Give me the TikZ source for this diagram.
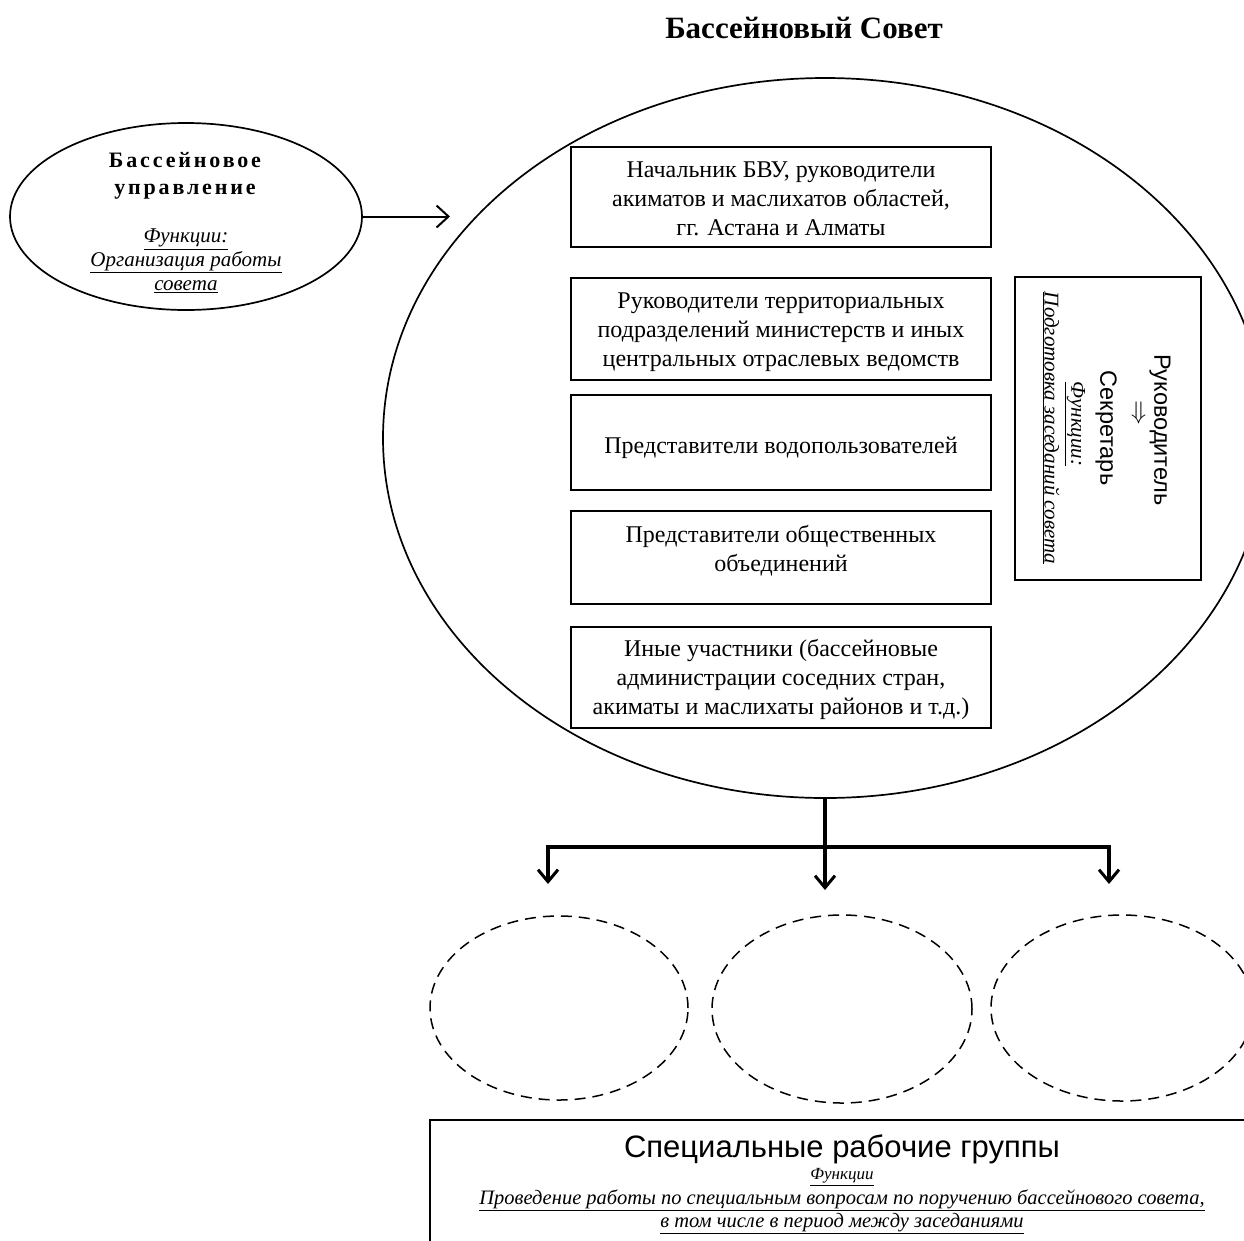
\documentclass[tikz,border=0pt]{standalone}
\usepackage{fontspec}
\setmainfont{Liberation Serif}
\setsansfont{Liberation Sans}
\usetikzlibrary{arrows.meta,shapes.geometric}
\newcommand\myul[1]{\underline{#1}}
\begin{document}
\begin{tikzpicture}[x=1pt,y=-1pt,
  boxst/.style={draw,line width=1.7pt,inner sep=0pt,minimum width=420pt},
  txt/.style={align=center,inner sep=0pt,font=\fontsize{24}{29}\selectfont},
  dashell/.style={draw,ellipse,dash pattern=on 11pt off 7pt,line width=1.5pt,inner sep=0pt},
  rot/.style={rotate=-90,inner sep=0pt},
  thinarrow/.style={line width=2pt,-{Straight Barb[length=12pt,width=22pt,line width=2pt]}},
  thickarrow/.style={line width=3.2pt,line join=miter}
]
\useasboundingbox (0,0) rectangle (1244,1240);
\clip (0,0) rectangle (1244,1240);

% title
\node[inner sep=0pt,font=\bfseries\fontsize{31}{34}\selectfont] (title) at (804,28) {Бассейновый Совет};

% big ellipse
\node[draw,ellipse,line width=1.7pt,inner sep=0pt,minimum width=884pt,minimum height=720pt] (big) at (825,438) {};

% left ellipse
\node[draw,ellipse,line width=1.7pt,inner sep=0pt,minimum width=352pt,minimum height=187pt] (lft) at (186,216.5) {};
\node[align=center,inner sep=0pt,font=\bfseries\fontsize{22}{27}\selectfont\addfontfeature{LetterSpace=13}] (ltitle) at (185,176) {Бассейновое\\управление};
\node[align=center,inner sep=0pt,font=\itshape\fontsize{21}{24}\selectfont] (lfunc) at (186,261) {\myul{Функции:}\\\myul{Организация работы}\\\myul{совета}};

\coordinate (lend) at (450,216.5);
\draw[thinarrow] (lft.east) -- (lend);

% member boxes
\node[boxst,minimum height=100pt] (b1) at (781,197) {};
\node[boxst,minimum height=102pt] (b2) at (781,329) {};
\node[boxst,minimum height=95pt] (b3) at (781,442.5) {};
\node[boxst,minimum height=93pt] (b4) at (781,557.5) {};
\node[boxst,minimum height=101pt] (b5) at (781,677.5) {};

\node[txt] (t1) at (781,199) {Начальник БВУ, руководители\\акиматов и маслихатов областей,\\гг. Астана и Алматы};
\node[txt] (t2) at (781,332) {Руководители территориальных\\подразделений министерств и иных\\центральных отраслевых ведомств};
\node[txt] (t3) at (781,448) {Представители водопользователей};
\node[txt] (t4) at (781,551) {Представители общественных\\объединений};
\node[txt] (t5) at (781,679) {Иные участники (бассейновые\\администрации соседних стран,\\акиматы и маслихаты районов и т.д.)};

% right box
\node[draw,line width=1.7pt,inner sep=0pt,minimum width=186pt,minimum height=303pt] (rb) at (1108,428.5) {};
\node[rot,font=\sffamily\fontsize{23.5}{26}\selectfont] (r1) at (1160,430) {Руководитель};
\node[rot,font=\fontsize{28}{30}\selectfont] (r2) at (1137,413) {$\Rightarrow$};
\node[rot,font=\sffamily\fontsize{23.5}{26}\selectfont] (r3) at (1106,428) {Секретарь};
\node[rot,font=\itshape\fontsize{21}{24}\selectfont] (r4) at (1075,424) {\myul{Функции:}};
\node[rot,font=\itshape\fontsize{21}{24}\selectfont] (r5) at (1051,428) {\myul{Подготовка заседаний совета}};

% bottom connectors
\coordinate (lc) at (548,847);
\coordinate (rc) at (1109,847);
\coordinate (la) at (548,884);
\coordinate (ra) at (1109,884);
\coordinate (ma) at (big.south |- 0,890);
\draw[thickarrow,{Straight Barb[length=12pt,width=20pt,line width=3pt]}-{Straight Barb[length=12pt,width=20pt,line width=3pt]}] (la) -- (lc) -- (rc) -- (ra);
\draw[thickarrow,-{Straight Barb[length=12pt,width=20pt,line width=3pt]}] (big.south) -- (ma);

% dashed ellipses
\node[dashell,minimum width=258pt,minimum height=184pt] (d1) at (559,1008) {};
\node[dashell,minimum width=260pt,minimum height=188pt] (d2) at (842,1009) {};
\node[dashell,minimum width=262pt,minimum height=186pt] (d3) at (1122,1008) {};

% bottom box
\node[draw,line width=1.7pt,inner sep=0pt,minimum width=830pt,minimum height=140pt] (bb) at (845,1190) {};
\node[inner sep=0pt,font=\sffamily\fontsize{31}{34}\selectfont] (bt1) at (842,1149) {Специальные рабочие группы};
\node[inner sep=0pt,font=\itshape\fontsize{17}{20}\selectfont] (bt2) at (842,1177) {\myul{Функции}};
\node[align=center,inner sep=0pt,font=\itshape\fontsize{20.5}{23}\selectfont] (bt3) at (842,1212) {\myul{Проведение работы по специальным вопросам по поручению бассейнового совета,}\\\myul{в том числе в период между заседаниями}};
\end{tikzpicture}
\end{document}
